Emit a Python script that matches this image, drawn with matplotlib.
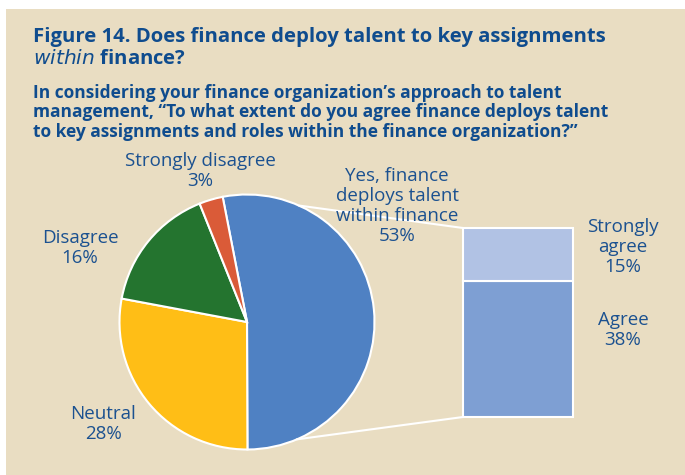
import numpy as np
import matplotlib.pyplot as plt
from matplotlib.patches import Rectangle, ConnectionPatch

# data
pie_labels = ['Yes, finance\ndeploys talent\nwithin finance', 'Neutral', 'Disagree', 'Strongly disagree']
pie_values = [53, 28, 16, 3]
pie_colors = ['#4F81C3', '#FFBE16', '#24742F', '#DA5B38']

bar_labels = ['Agree', 'Strongly\nagree']
bar_values = [38, 15]
bar_colors = ['#7E9FD3', '#B1C2E4']

title = 'Figure 14. Does finance deploy talent to key assignments\n$\\it{within}$ finance?'
subtitle = ('In considering your finance organization\u2019s approach to talent\n'
            'management, \u201cTo what extent do you agree finance deploys talent\n'
            'to key assignments and roles within the finance organization?\u201d')

W, H = 685, 475
title_color = '#0F4C8E'
txt_color = '#1B5190'
plt.rcParams['font.family'] = ['Open Sans', 'DejaVu Sans']

fig = plt.figure(figsize=(W / 100, H / 100), dpi=100, facecolor='white')
fig.patches.append(Rectangle((6 / W, 0), 1 - 6 / W, (H - 9) / H, transform=fig.transFigure,
                             facecolor='#E9DDC2', edgecolor='none', zorder=-5))

def fx(px):
    return px / W

def fy(py):
    return 1 - py / H

# pie axes: radius 1 -> ~127.5 px, centre at (247, 322)
r_px = 127.5
cx, cy = 247, 322
size = 2 * 1.1 * r_px
ax1 = fig.add_axes([fx(cx - size / 2), fy(cy + size / 2), size / W, size / H])
wedges, _ = ax1.pie(pie_values, colors=pie_colors, startangle=101, counterclock=False,
                    radius=1, wedgeprops=dict(edgecolor='white', linewidth=1.5))
ax1.set_xlim(-1.1, 1.1)
ax1.set_ylim(-1.1, 1.1)
ax1.axis('off')

# bar axes
bx0, bx1, by0, by1 = 463, 573, 228, 417
ax2 = fig.add_axes([fx(bx0), fy(by1), (bx1 - bx0) / W, (by1 - by0) / H])
bottom = 0
for v, c in zip(bar_values, bar_colors):
    ax2.bar(0.5, v, width=1, bottom=bottom, color=c, edgecolor='white', linewidth=1.5, clip_on=False)
    bottom += v
ax2.set_xlim(0, 1)
ax2.set_ylim(0, sum(bar_values))
ax2.axis('off')

# connector lines
for ang, yb in [(66, sum(bar_values)), (-67, 0)]:
    t = np.deg2rad(ang)
    con = ConnectionPatch(xyA=(0, yb), coordsA=ax2.transData,
                          xyB=(np.cos(t), np.sin(t)), coordsB=ax1.transData,
                          color='white', linewidth=1.5)
    fig.add_artist(con)

# titles
fig.text(fx(33), fy(27), title, fontsize=14.6, fontweight='bold', color=title_color,
         va='top', ha='left', linespacing=1.12)
fig.text(fx(33), fy(84), subtitle, fontsize=12.5, fontweight='bold', color=title_color,
         va='top', ha='left', linespacing=1.1)

# labels
lab_fs = 13.5
pie_pos = [(397, 206), (103, 424), (80, 248), (200, 171)]
for lab, v, (x, y) in zip(pie_labels, pie_values, pie_pos):
    fig.text(fx(x), fy(y), f'{lab}\n{v}%', fontsize=lab_fs, color=txt_color,
             ha='center', va='center', linespacing=1.12)
bar_pos = [(623, 330), (623, 247)]
for lab, v, (x, y) in zip(bar_labels, bar_values, bar_pos):
    fig.text(fx(x), fy(y), f'{lab}\n{v}%', fontsize=lab_fs, color=txt_color,
             ha='center', va='center', linespacing=1.12)

fig.savefig('out.png', dpi=100, facecolor=fig.get_facecolor())
